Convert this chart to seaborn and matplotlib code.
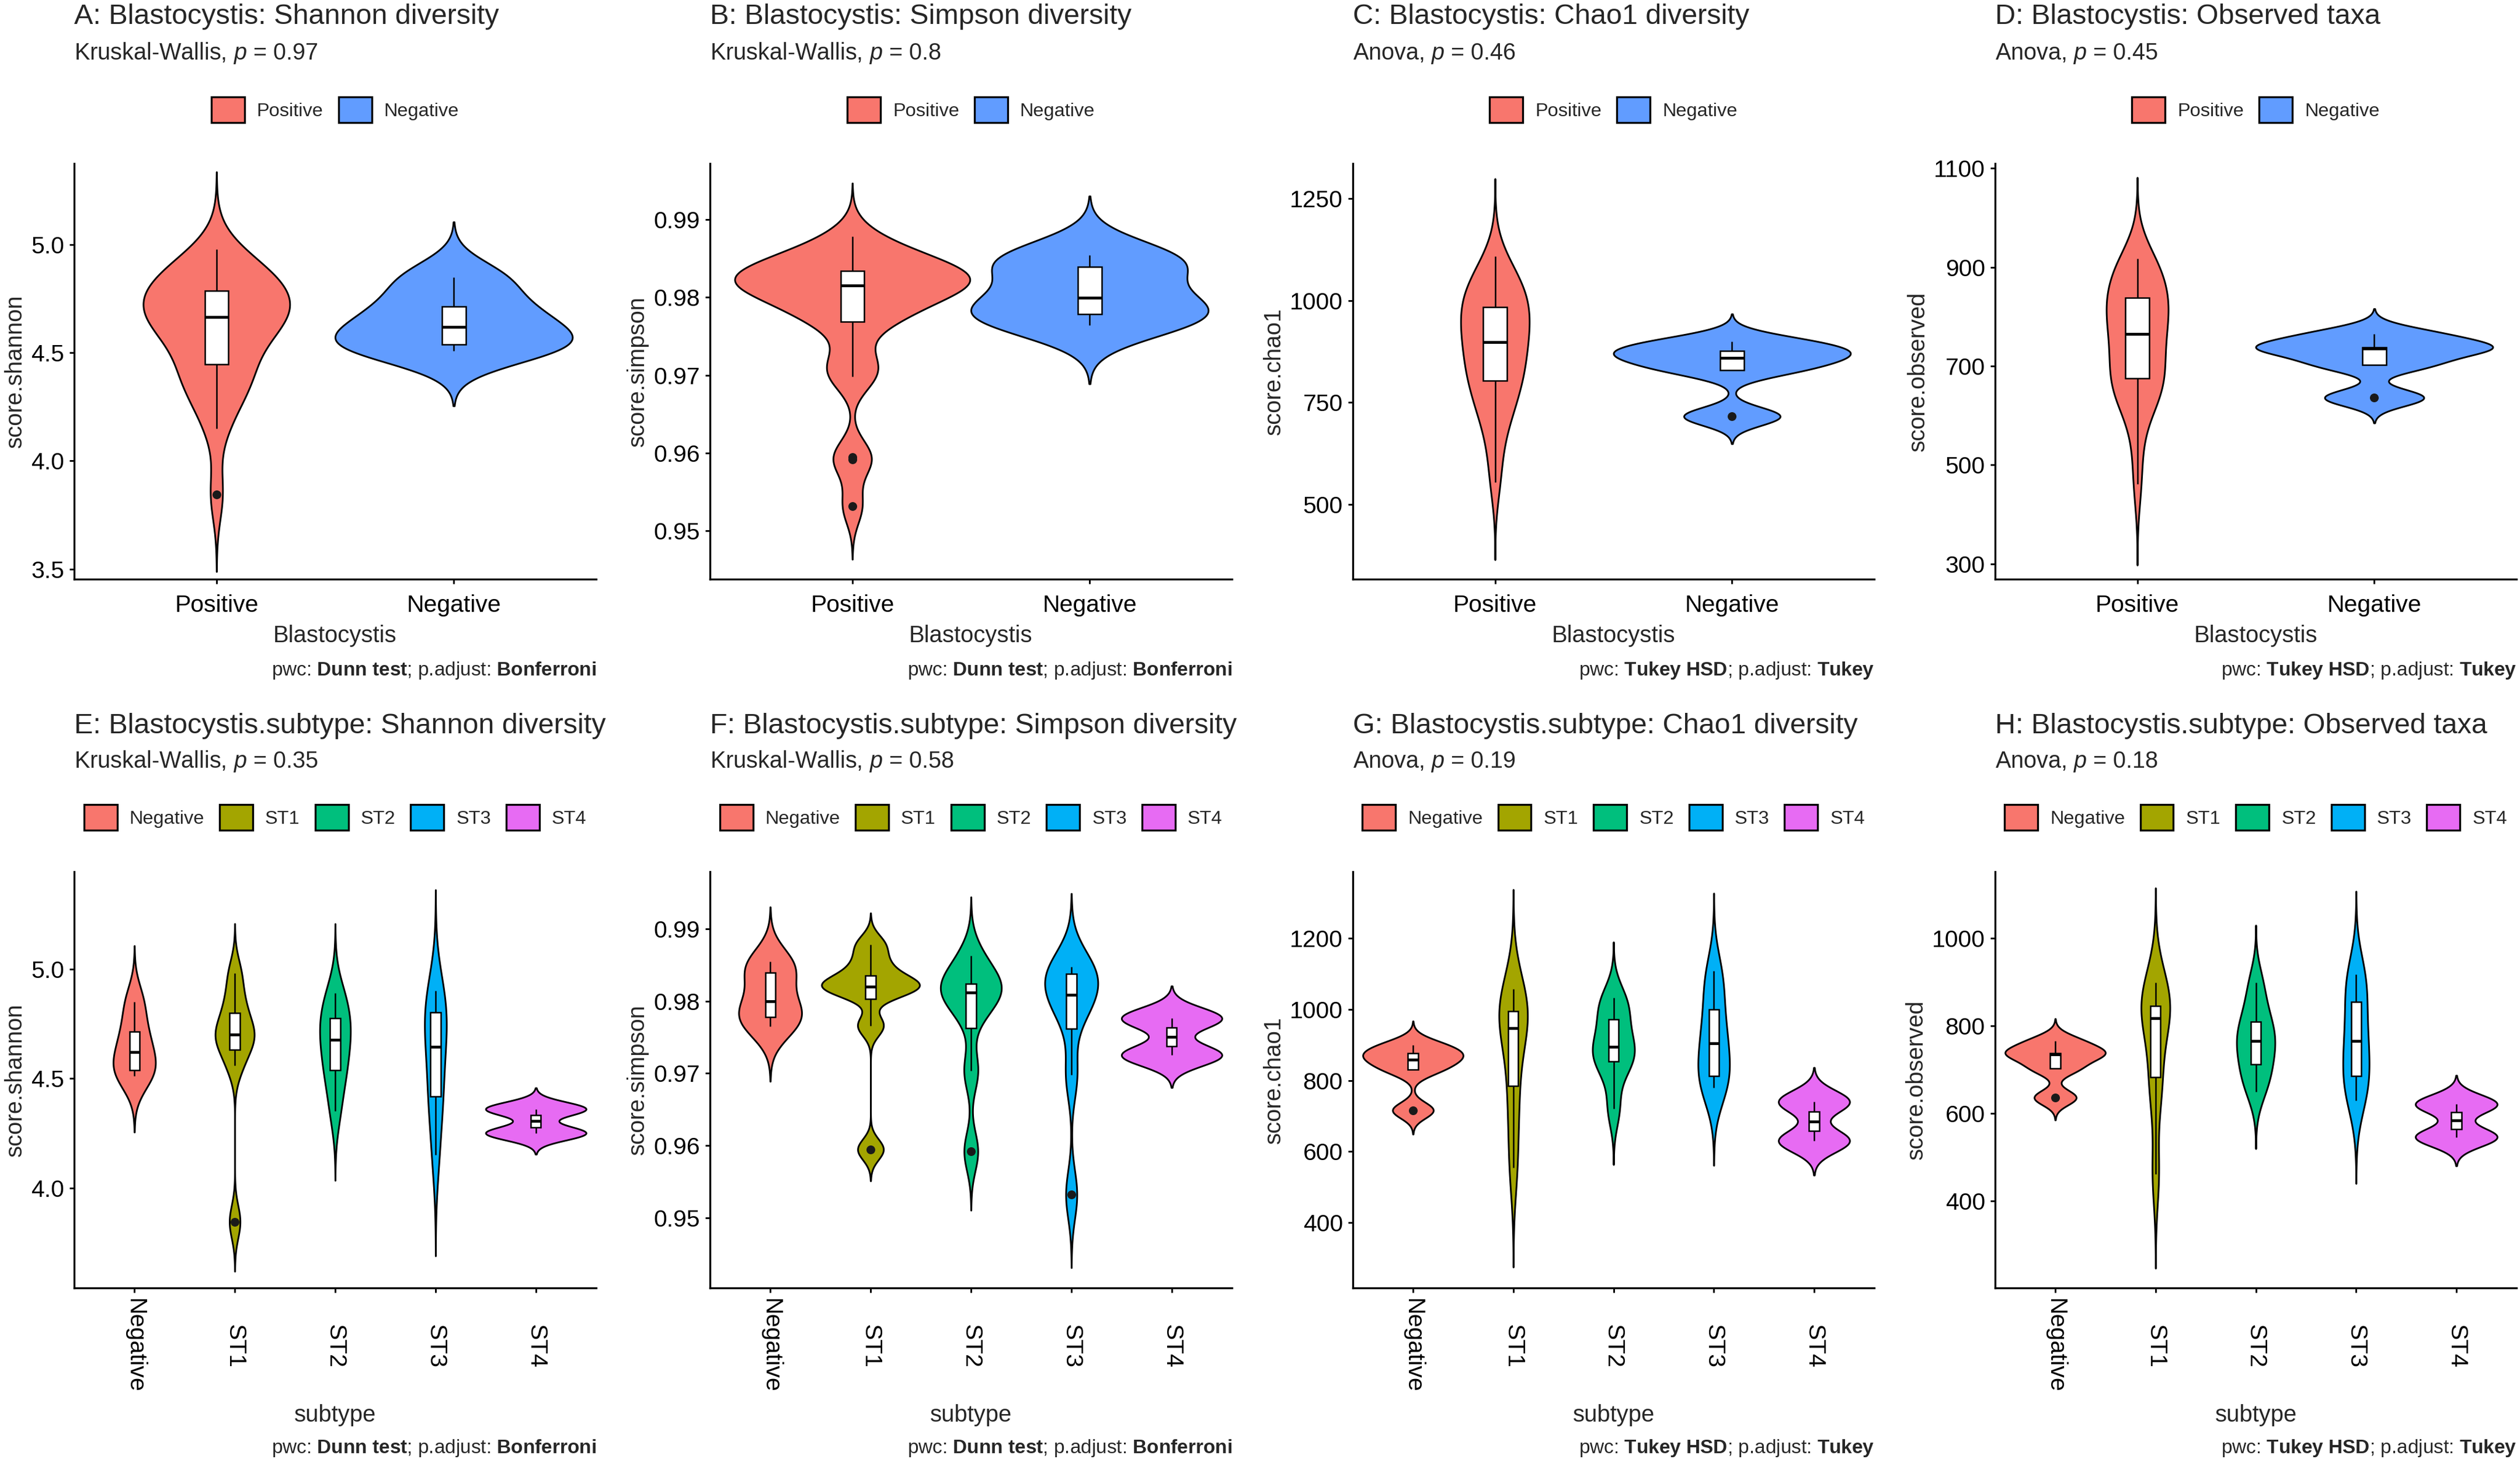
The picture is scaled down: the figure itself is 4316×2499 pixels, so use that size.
import numpy as np
import pandas as pd
import matplotlib
matplotlib.use("Agg")
import matplotlib.pyplot as plt
import seaborn as sns
from matplotlib.patches import Patch
from matplotlib.ticker import MultipleLocator, FormatStrFormatter

# alpha diversity scores per group
subtypes = ["Negative", "ST1", "ST2", "ST3", "ST4"]
status = ["Positive", "Negative"]

shannon = {
    "Negative": [4.51, 4.538, 4.621, 4.713, 4.85],
    "ST1": [3.845, 4.56, 4.653, 4.69, 4.71, 4.78, 4.86, 4.98],
    "ST2": [4.35, 4.50, 4.551, 4.66, 4.69, 4.76, 4.824, 4.89],
    "ST3": [4.15, 4.38, 4.43, 4.62, 4.67, 4.79, 4.84, 4.90],
    "ST4": [4.25, 4.36],
}
simpson = {
    "Negative": [0.97646, 0.97782, 0.97993, 0.98395, 0.98544],
    "ST1": [0.95946, 0.9766, 0.9815, 0.9817, 0.98224, 0.9830, 0.9852, 0.98782],
    "ST2": [0.95918, 0.97034, 0.97823, 0.9808, 0.9815, 0.9820, 0.9835, 0.98626],
    "ST3": [0.9532, 0.9698, 0.97833, 0.9800, 0.98164, 0.9836, 0.9844, 0.98476],
    "ST4": [0.9725, 0.9776],
}
chao1 = {
    "Negative": [716, 830, 859, 876, 900],
    "ST1": [554, 700, 813, 930, 966, 985, 1025, 1058],
    "ST2": [720, 830, 862, 885, 905, 960, 1008, 1033],
    "ST3": [779, 800, 816, 890, 920, 980, 1060, 1109],
    "ST4": [630, 740],
}
observed = {
    "Negative": [636, 703, 735, 738, 765],
    "ST1": [462, 640, 697, 805, 829, 835, 875, 899],
    "ST2": [650, 690, 719, 755, 775, 800, 840, 899],
    "ST3": [630, 670, 691, 750, 780, 840, 900, 917],
    "ST4": [546, 621],
}

metric_names = ["Shannon diversity", "Simpson diversity", "Chao1 diversity", "Observed taxa"]
metric_labels = ["score.shannon", "score.simpson", "score.chao1", "score.observed"]
metric_data = [shannon, simpson, chao1, observed]
tests = ["Kruskal-Wallis", "Kruskal-Wallis", "Anova", "Anova"]
pwc = ["Dunn test", "Dunn test", "Tukey HSD", "Tukey HSD"]
p_adjust = ["Bonferroni", "Bonferroni", "Tukey", "Tukey"]
p_status = [0.97, 0.8, 0.46, 0.45]
p_subtype = [0.35, 0.58, 0.19, 0.18]

status_colors = ["#F8766D", "#619CFF"]
subtype_colors = ["#F8766D", "#A3A500", "#00BF7D", "#00B0F6", "#E76BF3"]

# y axis ranges, tick spacing and offset per panel
ylims_status = [(3.453, 5.376), (0.9438, 0.9972), (317, 1336), (269, 1110)]
ylims_subtype = [(3.543, 5.444), (0.9403, 0.9979), (216, 1388), (201.5, 1152)]
ticks_status = [(0.5, 0), (0.01, 0), (250, 0), (200, 100)]
ticks_subtype = [(0.5, 0), (0.01, 0), (200, 0), (200, 0)]
tick_fmts = ["%.1f", "%.2f", "%d", "%d"]

# layout (pixels of the 4316x2499 canvas)
W, H = 4316, 2499
col_left = [127, 1216, 2317, 3417]
col_right = [1021, 2110, 3210, 4310]
row_top = [280, 1493]
row_bottom = [992, 2206]
title_base = [41, 1256]
sub_base = [102, 1315]
legend_mid = [188, 1400]
caption_base = [1157, 2489]

sns.set_style("ticks")
plt.rcParams["font.family"] = ["Liberation Sans", "DejaVu Sans"]
plt.rcParams["mathtext.fontset"] = "custom"
plt.rcParams["mathtext.rm"] = "Liberation Sans"
plt.rcParams["mathtext.it"] = "Liberation Sans:italic"
plt.rcParams["mathtext.bf"] = "Liberation Sans:bold"


def nrd0(kde):
    # R's default bandwidth, as used by ggplot2's geom_violin
    x = np.asarray(kde.dataset).ravel()
    sd = x.std(ddof=1)
    q75, q25 = np.percentile(x, [75, 25])
    lo = min(sd, (q75 - q25) / 1.34)
    if lo <= 0:
        lo = sd
    return 0.9 * lo * len(x) ** -0.2 / sd


def make_frame(values, by_status):
    if by_status:
        positive = []
        for st in subtypes[1:]:
            positive += values[st]
        groups = {"Positive": positive, "Negative": values["Negative"]}
    else:
        groups = values
    rows = [(g, v) for g, vals in groups.items() for v in vals]
    return pd.DataFrame(rows, columns=["group", "score"])


def fx(px):
    return px / W


def fy(px):
    return 1 - px / H


fig = plt.figure(figsize=(W / 300, H / 300), dpi=300)

for row in range(2):
    by_status = row == 0
    order = status if by_status else subtypes
    colors = status_colors if by_status else subtype_colors
    letters = "ABCD" if by_status else "EFGH"
    group_name = "Blastocystis" if by_status else "Blastocystis.subtype"
    pvals = p_status if by_status else p_subtype
    ticks = ticks_status if by_status else ticks_subtype
    ylims = ylims_status if by_status else ylims_subtype

    for col in range(4):
        ax = fig.add_axes([fx(col_left[col]), fy(row_bottom[row]),
                           fx(col_right[col] - col_left[col]),
                           (row_bottom[row] - row_top[row]) / H])
        df = make_frame(metric_data[col], by_status)

        sns.violinplot(data=df, x="group", y="score", hue="group",
                       order=order, hue_order=order, palette=colors,
                       saturation=1, inner=None, width=1.0, cut=3,
                       gridsize=300, bw_method=nrd0, density_norm="area",
                       common_norm=True, linecolor="black", linewidth=0.7,
                       legend=False, ax=ax)
        sns.boxplot(data=df, x="group", y="score", order=order,
                    color="white", saturation=1, width=0.1,
                    linecolor="black", linewidth=0.6, fliersize=2.6,
                    showcaps=False, medianprops={"linewidth": 1.15},
                    flierprops={"marker": "o", "markerfacecolor": "#1a1a1a",
                                "markeredgecolor": "#1a1a1a"},
                    ax=ax)

        ax.set_xlim(-0.6, len(order) - 0.4)
        ax.set_ylim(*ylims[col])
        step, offset = ticks[col]
        ax.yaxis.set_major_locator(MultipleLocator(step, offset=offset))
        ax.yaxis.set_major_formatter(FormatStrFormatter(tick_fmts[col]))
        sns.despine(ax=ax)
        for side in ["left", "bottom"]:
            ax.spines[side].set_linewidth(0.8)
            ax.spines[side].set_color("black")
        ax.tick_params(axis="both", length=2, width=0.7, color="black",
                       labelsize=9.8, labelcolor="black")
        ax.tick_params(axis="y", pad=2.1)

        if by_status:
            ax.set_xticks(range(len(order)), order)
            ax.tick_params(axis="x", pad=4.3)
            ax.set_xlabel("Blastocystis", fontsize=9.6, labelpad=3.3)
        else:
            ax.set_xticks(range(len(order)), order, rotation=-90,
                          ha="center", va="center")
            ax.tick_params(axis="x", pad=21.8)
            ax.set_xlabel("subtype", fontsize=9.6, labelpad=4.5)
        ax.set_ylabel(metric_labels[col], fontsize=9.6, labelpad=2)

        # title, subtitle, legend, caption
        left = fx(col_left[col])
        fig.text(left, fy(title_base[row]),
                 f"{letters[col]}: {group_name}: {metric_names[col]}",
                 fontsize=11.65, va="baseline", ha="left")
        fig.text(left, fy(sub_base[row]),
                 f"{tests[col]}, $\\mathit{{p}}$ = {pvals[col]}",
                 fontsize=9.5, va="baseline", ha="left")
        handles = [Patch(facecolor=c, edgecolor="black", linewidth=0.8)
                   for c in colors]
        ax.legend(handles, order, loc="center", ncol=len(order),
                  bbox_to_anchor=(fx((col_left[col] + col_right[col]) / 2),
                                  fy(legend_mid[row])),
                  bbox_transform=fig.transFigure, frameon=False,
                  fontsize=7.8, handlelength=1.75, handleheight=1.72,
                  handletextpad=0.65, columnspacing=0.8)
        caption = ("pwc: $\\mathbf{" + pwc[col].replace(" ", "\\ ")
                   + "}$; p.adjust: $\\mathbf{" + p_adjust[col] + "}$")
        fig.text(fx(col_right[col]), fy(caption_base[row]), caption,
                 fontsize=8, va="baseline", ha="right")

fig.savefig("out.png", dpi=300, facecolor="white")
plt.close(fig)
